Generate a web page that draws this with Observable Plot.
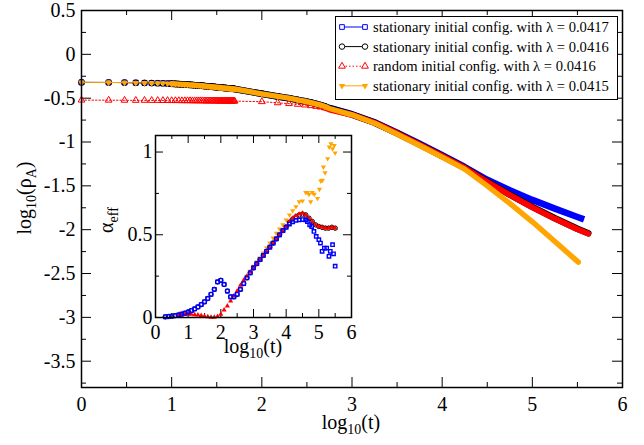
<!DOCTYPE html>
<html><head><meta charset="utf-8">
<script src="https://cdn.jsdelivr.net/npm/d3@7"></script>
<script src="https://cdn.jsdelivr.net/npm/@observablehq/plot@0.6"></script>
<style>
body{margin:0;background:#fff;}
#wrap{position:relative;width:644px;height:445px;}
#wrap svg text{font-family:"Liberation Serif","Times New Roman",serif !important;}
</style></head><body><div id="wrap"></div>
<script>
// ---------- main panel data: log10(rho_A) ----------
const tEarly = [1,2,3,4,5,6,7,8,9,10,11,12,13,14,15,16,17,18,19,20,21,22,23,24,25,26,27,28,29,30,31,32,33,34,35,36,37,38,39,40,41,42,43,44,45,46,47,48,49,50];
const rhoStationaryEarly = [-0.320,-0.321,-0.322,-0.324,-0.326,-0.328,-0.330,-0.331,-0.333,-0.335,
 -0.337,-0.340,-0.342,-0.344,-0.346,-0.348,-0.350,-0.352,-0.354,-0.355,
 -0.357,-0.359,-0.361,-0.363,-0.365,-0.366,-0.368,-0.369,-0.371,-0.372,
 -0.374,-0.375,-0.377,-0.378,-0.379,-0.380,-0.382,-0.383,-0.384,-0.385,
 -0.386,-0.387,-0.388,-0.389,-0.390,-0.391,-0.392,-0.393,-0.394,-0.395];
const rhoRandomEarly = [-0.522,-0.523,-0.524,-0.525,-0.525,-0.526,-0.526,-0.527,-0.527,-0.528,
 -0.528,-0.528,-0.529,-0.529,-0.529,-0.529,-0.530,-0.530,-0.530,-0.530,
 -0.530,-0.530,-0.531,-0.531,-0.531,-0.531,-0.531,-0.531,-0.531,-0.531,
 -0.531,-0.531,-0.532,-0.532,-0.532,-0.532,-0.532,-0.532,-0.532,-0.532,
 -0.532,-0.532,-0.532,-0.532,-0.533,-0.533,-0.533,-0.533,-0.533,-0.533];
const tMid = [100,150,200,250,300,350,400,450,500];
const rhoStationaryMid = [-0.45,-0.48,-0.50,-0.52,-0.535,-0.55,-0.565,-0.58,-0.595];
const rhoRandomMid = [-0.54,-0.553,-0.562,-0.57,-0.578,-0.586,-0.594,-0.602,-0.61];
const logT0417 = [2.75,3,3.25,3.5,3.75,4,4.25,4.5,4.75,5,5.25,5.5,5.54];
const rho0417 = [-0.612,-0.683,-0.775,-0.895,-1.02,-1.15,-1.285,-1.43,-1.55,-1.66,-1.76,-1.855,-1.87];
const logT0416 = [2.75,3,3.25,3.5,3.75,4,4.25,4.5,4.75,5,5.25,5.5,5.62];
const rho0416 = [-0.615,-0.687,-0.78,-0.9,-1.03,-1.16,-1.295,-1.45,-1.60,-1.74,-1.87,-1.99,-2.04];
const logTRandom = [2.75,3,3.25,3.5,3.75,4,4.25,4.5,4.75,5,5.25,5.5,5.62];
const rhoRandom = [-0.63,-0.69,-0.78,-0.9,-1.03,-1.16,-1.295,-1.455,-1.605,-1.745,-1.875,-1.995,-2.045];
const logT0415 = [2.75,3,3.25,3.5,3.75,4,4.25,4.5,4.75,5,5.25,5.51];
const rho0415 = [-0.618,-0.69,-0.785,-0.91,-1.04,-1.172,-1.31,-1.50,-1.70,-1.91,-2.135,-2.37];

// ---------- inset data: alpha_eff ----------
const aLogT0417 = [0.3,0.4,0.5,0.6,0.7,0.8,0.9,1.0,1.1,1.2,1.3,1.4,1.5,1.6,1.7,1.8,1.9,2.0,2.1,2.2,2.3,2.4,2.5,2.6,2.7,2.8,2.9,3.0,3.1,3.2,3.3,3.4,3.5,3.6,3.7,3.8,3.9,4.0,4.1,4.2,4.3,4.4,4.5,4.6,4.65,4.72,4.78,4.85,4.92,5.0,5.05,5.1,5.17,5.24,5.31,5.35,5.42,5.45,5.5];
const alpha0417 = [0.004,0.006,0.008,0.011,0.015,0.02,0.026,0.033,0.042,0.052,0.064,0.078,0.095,0.115,0.14,0.17,0.215,0.225,0.2,0.16,0.125,0.125,0.14,0.17,0.205,0.24,0.27,0.30,0.325,0.35,0.375,0.4,0.425,0.45,0.475,0.5,0.525,0.545,0.565,0.578,0.587,0.59,0.592,0.59,0.58,0.56,0.55,0.52,0.49,0.47,0.45,0.40,0.42,0.42,0.37,0.40,0.44,0.385,0.31];
const aLogT0416 = [0.3,0.4,0.5,0.6,0.7,0.8,0.9,1.0,1.1,1.2,1.3,1.4,1.5,1.6,1.7,1.8,1.9,2.0,2.1,2.2,2.3,2.4,2.5,2.6,2.7,2.8,2.9,3.0,3.1,3.2,3.3,3.4,3.5,3.6,3.7,3.8,3.9,4.0,4.1,4.2,4.3,4.4,4.5,4.6,4.7,4.8,4.9,5.0,5.1,5.2,5.3,5.4,5.5];
const alpha0416 = [0.004,0.006,0.008,0.011,0.015,0.02,0.026,0.033,0.042,0.052,0.064,0.078,0.095,0.115,0.14,0.17,0.215,0.225,0.2,0.16,0.125,0.125,0.14,0.17,0.205,0.24,0.27,0.30,0.325,0.35,0.375,0.4,0.425,0.45,0.475,0.5,0.525,0.548,0.575,0.595,0.61,0.62,0.625,0.62,0.60,0.58,0.56,0.55,0.545,0.54,0.54,0.545,0.54];
const aLogTRandom = [0.7,0.8,0.9,1.0,1.1,1.2,1.3,1.4,1.5,1.6,1.7,1.8,1.9,2.0,2.1,2.2,2.3,2.4,2.5,2.6,2.7,2.8,2.9,3.0,3.1,3.2,3.3,3.4,3.5,3.6,3.7,3.8,3.9,4.0,4.1,4.2,4.3,4.4,4.5,4.6,4.7,4.8,4.9,5.0,5.1,5.2,5.3,5.4,5.5];
const alphaRandom = [0.018,0.02,0.02,0.02,0.019,0.017,0.015,0.012,0.008,0.005,0.002,0.002,0.006,0.02,0.045,0.07,0.1,0.13,0.16,0.195,0.225,0.25,0.275,0.3,0.322,0.347,0.372,0.397,0.422,0.448,0.473,0.498,0.523,0.55,0.58,0.60,0.615,0.625,0.63,0.62,0.60,0.58,0.56,0.55,0.545,0.54,0.54,0.545,0.54];
const aLogT0415 = [2.8,2.9,3.0,3.1,3.2,3.3,3.4,3.5,3.6,3.7,3.8,3.9,4.0,4.1,4.2,4.3,4.4,4.5,4.6,4.65,4.7,4.75,4.8,4.86,4.96,5.02,5.06,5.11,5.14,5.19,5.27,5.32,5.37,5.42,5.47,5.5];
const alpha0415 = [0.25,0.28,0.31,0.335,0.36,0.39,0.42,0.45,0.48,0.51,0.535,0.56,0.59,0.62,0.645,0.67,0.70,0.705,0.755,0.755,0.745,0.70,0.755,0.745,0.72,0.775,0.825,0.83,0.91,0.875,0.96,1.03,1.05,1.02,1.04,0.995];

// ---------- axes / legend text ----------
const xMajor = [0,1,2,3,4,5,6];
const xMinor = [0.5,1.5,2.5,3.5,4.5,5.5];
const yMajor = [0.5,0,-0.5,-1,-1.5,-2,-2.5,-3,-3.5];
const yMinor = [0.25,-0.25,-0.75,-1.25,-1.75,-2.25,-2.75,-3.25,-3.75];
const insetYMajor = [0,0.5,1];
const insetYMinor = [0.25,0.75];
const legendLabels = ["stationary initial config. with \u03bb = 0.0417","stationary initial config. with \u03bb = 0.0416","random initial config. with \u03bb = 0.0416","stationary initial config. with \u03bb = 0.0415"];

const BLUE="#0000ff", BLACK="#000000", RED="#ff0000", ORANGE="#ffa500";
const FONT='"Liberation Serif","Times New Roman",serif';
const triangleDown = {draw(c, size){const y=-Math.sqrt(size/(Math.sqrt(3)*3)); c.moveTo(0,-y*2); c.lineTo(-Math.sqrt(3)*y, y); c.lineTo(Math.sqrt(3)*y, y); c.closePath();}};

const rowsT = (ts, rs) => ts.map((t,i)=>({lx: Math.log10(t), v: rs[i]}));
const rowsL = (ls, rs) => ls.map((l,i)=>({lx: l, v: rs[i]}));
const statEarly = rowsT(tEarly, rhoStationaryEarly), statMid = rowsT(tMid, rhoStationaryMid);
const randEarly = rowsT(tEarly, rhoRandomEarly), randMid = rowsT(tMid, rhoRandomMid);
const late0417 = rowsL(logT0417, rho0417), late0416 = rowsL(logT0416, rho0416);
const lateRand = rowsL(logTRandom, rhoRandom), late0415 = rowsL(logT0415, rho0415);
const statBandStart = statEarly.filter(d => d.lx >= 1);

function seriesMarks(markers, band, late, color, symbol, r, opts) {
  const all = [...markers, ...late];
  return [
    Plot.line(all, {x:"lx", y:"v", stroke: color, strokeWidth: 1, strokeDasharray: opts.dash || null}),
    Plot.line([...band, ...late], {x:"lx", y:"v", stroke: color, strokeWidth: opts.bw, strokeLinecap: opts.cap || "round"}),
    Plot.dot(markers, {x:"lx", y:"v", symbol, r, stroke: opts.filled ? null : color, fill: opts.filled ? color : "none", strokeWidth: 1})
  ];
}

const M = {top:10, right:22, bottom:58, left:81};
const innerW = 644 - M.left - M.right, innerH = 445 - M.top - M.bottom;

const main = Plot.plot({
  width: 644, height: 445,
  marginTop: M.top, marginRight: M.right, marginBottom: M.bottom, marginLeft: M.left,
  style: {fontFamily: FONT, fontSize: "20px", background: "white", color: "black", overflow: "visible"},
  x: {domain: [0,6]},
  y: {domain: [-3.8, 0.5]},
  marks: [
    Plot.tickX(xMajor, {x: d=>d, insetTop: innerH-10, stroke: "black"}),
    Plot.tickX(xMajor, {x: d=>d, insetBottom: innerH-10, stroke: "black"}),
    Plot.tickX(xMinor, {x: d=>d, insetTop: innerH-5, stroke: "black"}),
    Plot.tickX(xMinor, {x: d=>d, insetBottom: innerH-5, stroke: "black"}),
    Plot.tickY(yMajor, {y: d=>d, insetRight: innerW-10, stroke: "black"}),
    Plot.tickY(yMajor, {y: d=>d, insetLeft: innerW-10, stroke: "black"}),
    Plot.tickY(yMinor, {y: d=>d, insetRight: innerW-5, stroke: "black"}),
    Plot.tickY(yMinor, {y: d=>d, insetLeft: innerW-5, stroke: "black"}),
    Plot.axisX(xMajor, {tickSize: 0, tickPadding: 9, tickFormat: d=>String(d), fontSize: 20, label: null}),
    Plot.axisY(yMajor, {tickSize: 0, tickPadding: 6, tickFormat: d=>String(d), fontSize: 20, label: null}),
    ...seriesMarks([...statEarly, ...statMid], [...statBandStart, ...statMid], late0417, BLUE, "square", 2.8, {bw: 6.5, cap: "square"}),
    ...seriesMarks([...statEarly, ...statMid], [...statBandStart, ...statMid], late0416, BLACK, "circle", 2.9, {bw: 6.6}),
    ...seriesMarks([...randEarly, ...randMid], randMid.slice(-1), lateRand, RED, "triangle", 2.5, {bw: 5.8, dash: "1.5,2"}),
    ...seriesMarks([...statEarly, ...statMid], [...statBandStart, ...statMid], late0415, ORANGE, triangleDown, 2.4, {bw: 5.4, filled: true}),
    Plot.frame({stroke: "black", strokeWidth: 1.5})
  ]
});

const wrap = document.getElementById("wrap");
wrap.appendChild(main);
const sm = d3.select(main);
sm.selectAll("text").style("font-family", FONT);
function subLabel(sel, parts, x, y, rot, size) {
  const t = sel.append("text").style("font-family", FONT).attr("font-size", size).attr("fill", "black")
    .attr("text-anchor", "middle").attr("transform", `translate(${x},${y})` + (rot ? ` rotate(${rot})` : ""));
  let shift = 0;
  for (const [s, sub] of parts) {
    const want = sub ? 5 : 0;
    t.append("tspan").attr("dy", want - shift).attr("font-size", sub ? size*0.7 : size).text(s);
    shift = want;
  }
  return t;
}
subLabel(sm, [["log",0],["10",1],["(\u03c1",0],["A",1],[")",0]], 31, 198, -90, 20);
subLabel(sm, [["log",0],["10",1],["(t)",0]], 351, 429, 0, 20);

// legend
const lg = sm.append("g");
lg.append("rect").attr("x", 335.5).attr("y", 16.5).attr("width", 282).attr("height", 83).attr("fill", "white").attr("stroke", "black").attr("stroke-width", 1);
const legColors = [BLUE, BLACK, RED, ORANGE];
const legSyms = [d3.symbolSquare, d3.symbolCircle, d3.symbolTriangle, triangleDown];
const legSizes = [22, 24, 20, 18];
legendLabels.forEach((lab, i) => {
  const cy = 27 + i*19.6;
  lg.append("line").attr("x1", 342).attr("x2", 365).attr("y1", cy).attr("y2", cy).attr("stroke", legColors[i]).attr("stroke-width", 1).attr("stroke-dasharray", i===2 ? "1.5,2" : null);
  for (const cx of [342, 365]) {
    lg.append("path").attr("d", d3.symbol(legSyms[i], legSizes[i])()).attr("transform", `translate(${cx},${cy})`)
      .attr("fill", i===3 ? legColors[i] : "white").attr("stroke", i===3 ? null : legColors[i]);
  }
  lg.append("text").attr("x", 373).attr("y", cy).attr("dy", "0.35em").attr("text-anchor", "start")
    .style("font-family", FONT).attr("font-size", 14.6).attr("fill", "black").text(lab);
});

// ---------- inset ----------
const IM = {top:6, right:10, bottom:46, left:60};
const iW = 196, iH = 182;
const aRows0417 = rowsL(aLogT0417, alpha0417), aRows0416 = rowsL(aLogT0416, alpha0416);
const aRowsRand = rowsL(aLogTRandom, alphaRandom), aRows0415 = rowsL(aLogT0415, alpha0415);
const inset = Plot.plot({
  width: IM.left + iW + IM.right, height: IM.top + iH + IM.bottom,
  marginTop: IM.top, marginRight: IM.right, marginBottom: IM.bottom, marginLeft: IM.left,
  style: {fontFamily: FONT, fontSize: "20px", background: "transparent", color: "black", overflow: "visible"},
  x: {domain: [0,6]},
  y: {domain: [0, 1.1]},
  marks: [
    Plot.frame({fill: "white"}),
    Plot.tickX(xMajor, {x: d=>d, insetTop: iH-8, stroke: "black"}),
    Plot.tickX(xMajor, {x: d=>d, insetBottom: iH-8, stroke: "black"}),
    Plot.tickX(xMinor, {x: d=>d, insetTop: iH-4, stroke: "black"}),
    Plot.tickX(xMinor, {x: d=>d, insetBottom: iH-4, stroke: "black"}),
    Plot.tickY(insetYMajor, {y: d=>d, insetRight: iW-8, stroke: "black"}),
    Plot.tickY(insetYMajor, {y: d=>d, insetLeft: iW-8, stroke: "black"}),
    Plot.tickY(insetYMinor, {y: d=>d, insetRight: iW-4, stroke: "black"}),
    Plot.tickY(insetYMinor, {y: d=>d, insetLeft: iW-4, stroke: "black"}),
    Plot.axisX(xMajor, {tickSize: 0, tickPadding: 7, tickFormat: d=>String(d), fontSize: 20, label: null}),
    Plot.axisY(insetYMajor, {tickSize: 0, tickPadding: 3, tickFormat: d=>String(d), fontSize: 20, label: null}),
    Plot.dot(aRows0415, {x:"lx", y:"v", symbol: triangleDown, r: 1.9, fill: ORANGE}),
    Plot.dot(aRows0416, {x:"lx", y:"v", symbol: "circle", r: 2.2, stroke: BLACK, fill: "none", strokeWidth: 1}),
    Plot.dot(aRowsRand, {x:"lx", y:"v", symbol: "triangle", r: 1.9, fill: RED}),
    Plot.dot(aRows0417, {x:"lx", y:"v", symbol: "square", r: 1.9, stroke: BLUE, fill: "none", strokeWidth: 1.4}),
    Plot.frame({stroke: "black", strokeWidth: 1.5})
  ]
});
inset.style.position = "absolute";
inset.style.left = (155 - IM.left) + "px";
inset.style.top = (135 - IM.top) + "px";
wrap.appendChild(inset);
const si = d3.select(inset);
si.selectAll("text").style("font-family", FONT);
subLabel(si, [["\u03b1",0],["eff",1]], 113 - (155 - IM.left), 220 - (135 - IM.top), -90, 20);
subLabel(si, [["log",0],["10",1],["(t)",0]], 253 - (155 - IM.left), 353 - (135 - IM.top), 0, 20);
</script>
</body></html>
